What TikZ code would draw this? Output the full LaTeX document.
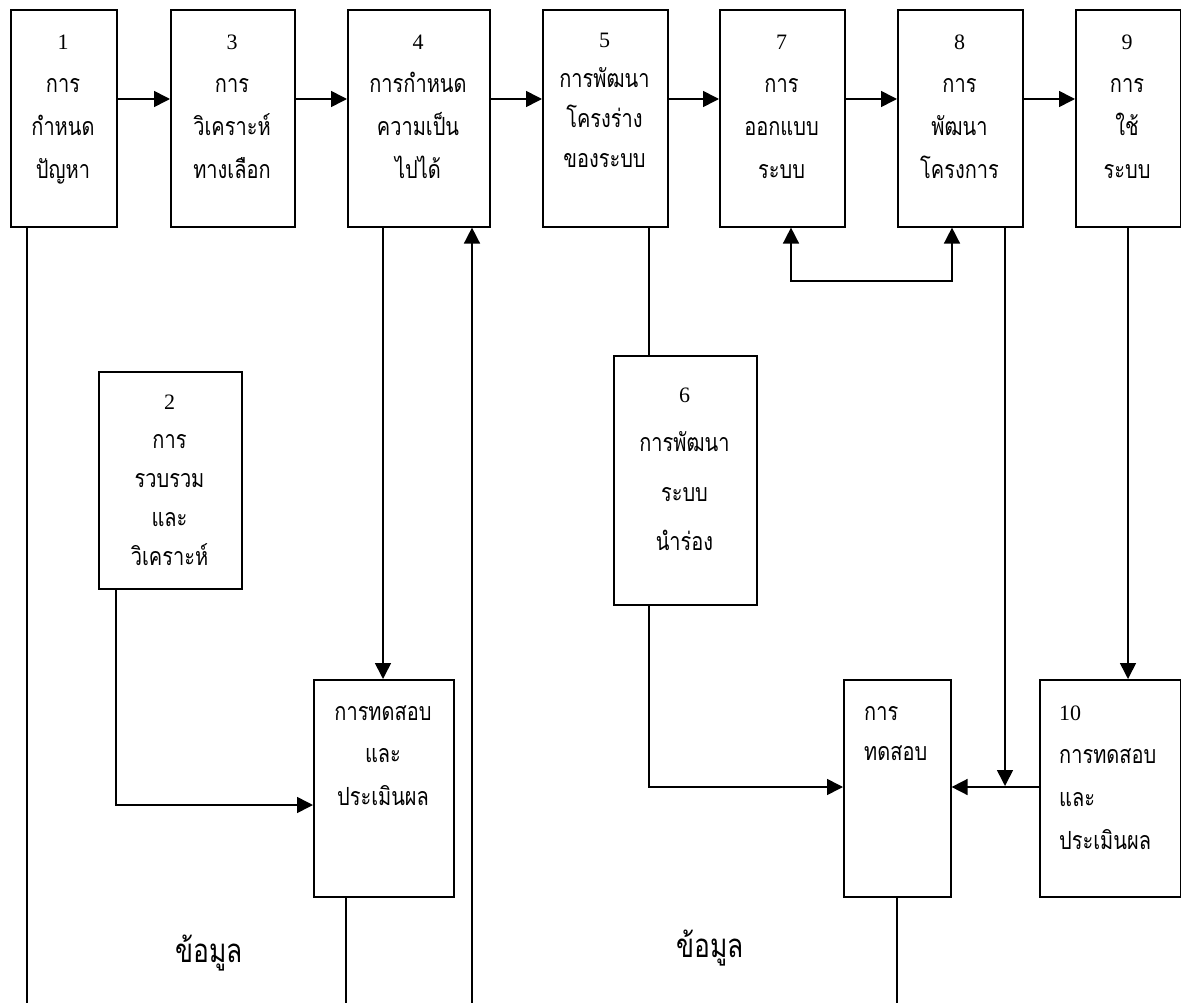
\documentclass[tikz,border=0pt]{standalone}
\usepackage{fontspec}
\setmainfont{Liberation Serif}
\newfontfamily\thaifont[Script=Thai,FakeStretch=0.8]{Loma}
\usetikzlibrary{arrows.meta}
\newcommand\stackc[5]{% name, x, first baseline, spacing, list
  \foreach \t [count=\i from 0] in {#5} {\node[txt,anchor=base] (#1-\i) at (#2,#3+\i*#4) {\t};}}
\newcommand\stackl[5]{%
  \foreach \t [count=\i from 0] in {#5} {\node[txt,anchor=base west] (#1-\i) at (#2,#3+\i*#4) {\t};}}
\tikzset{
  blk/.style={draw,line width=1.6pt,anchor=north west,inner sep=0pt},
  txt/.style={inner sep=0pt,font=\thaifont\fontsize{25}{30}\selectfont},
  ln/.style={line width=1.4pt},
  arr/.style={line width=1.6pt,-{Triangle[length=16pt,width=16pt]}},
  dbl/.style={line width=1.6pt,{Triangle[length=16pt,width=16pt]}-{Triangle[length=16pt,width=16pt]}},
  big/.style={inner sep=0pt,font=\thaifont\fontsize{33}{38}\selectfont}
}
\newcommand\dg[1]{{\rmfamily\fontsize{22}{26}\selectfont #1}}
\begin{document}
\begin{tikzpicture}[x=1pt,y=-1pt]
\useasboundingbox (0,0) rectangle (1181,1003);
% top row boxes
\node[blk,minimum width=106pt,minimum height=217pt] (b1) at (10,9) {};
\node[blk,minimum width=124pt,minimum height=217pt] (b3) at (170,9) {};
\node[blk,minimum width=142pt,minimum height=217pt] (b4) at (347,9) {};
\node[blk,minimum width=125pt,minimum height=217pt] (b5) at (542,9) {};
\node[blk,minimum width=125pt,minimum height=217pt] (b7) at (719,9) {};
\node[blk,minimum width=125pt,minimum height=217pt] (b8) at (897,9) {};
\node[blk,minimum width=105pt,minimum height=217pt] (b9) at (1075,9) {};
% middle boxes
\node[blk,minimum width=143pt,minimum height=217pt] (b2) at (98,371) {};
\node[blk,minimum width=143pt,minimum height=249pt] (b6) at (613,355) {};
% bottom boxes
\node[blk,minimum width=140pt,minimum height=217pt] (t1) at (313,679) {};
\node[blk,minimum width=107pt,minimum height=217pt] (t2) at (843,679) {};
\node[blk,minimum width=141pt,minimum height=217pt] (b10) at (1039,679) {};
% texts
\stackc{l1}{63}{50}{43}{\dg{1},การ,กำหนด,ปัญหา}
\stackc{l3}{232}{50}{43}{\dg{3},การ,วิเคราะห์,ทางเลือก}
\stackc{l4}{418}{50}{43}{\dg{4},การกำหนด,ความเป็น,ไปได้}
\stackc{l5}{604.5}{48}{40}{\dg{5},การพัฒนา,โครงร่าง,ของระบบ}
\stackc{l7}{781.5}{50}{43}{\dg{7},การ,ออกแบบ,ระบบ}
\stackc{l8}{959.5}{50}{43}{\dg{8},การ,พัฒนา,โครงการ}
\stackc{l9}{1127}{50}{43}{\dg{9},การ,ใช้,ระบบ}
\stackc{l2}{169.5}{409}{39.2}{\dg{2},การ,รวบรวม,และ,วิเคราะห์}
\stackc{l6}{684.5}{402}{49.5}{\dg{6},การพัฒนา,ระบบ,นำร่อง}
\stackc{lt1}{383}{720}{42.5}{การทดสอบ,และ,ประเมินผล}
\stackl{lt2}{864}{720}{40}{การ,ทดสอบ}
\stackl{l10}{1059}{720}{43}{\dg{10},การทดสอบ,และ,ประเมินผล}
\node[big,anchor=base] (d1) at (209,962) {ข้อมูล};
\node[big,anchor=base] (d2) at (710,957) {ข้อมูล};
% helper coordinates
\coordinate (ya) at (0,99);
\coordinate (e1) at (27,1003);
\coordinate (e4) at (383,0);
\coordinate (u4) at (472,1003);
\coordinate (e5) at (649,0);
\coordinate (e7) at (791,281);
\coordinate (e8) at (952,0);
\coordinate (d8) at (1005,786);
\coordinate (e9) at (1128,0);
\coordinate (e2) at (116,805);
\coordinate (et1) at (346,1003);
\coordinate (et2) at (897,1003);
\coordinate (y6) at (0,787);
% top arrows
\draw[arr] (b1.east |- ya) -- (b3.west |- ya);
\draw[arr] (b3.east |- ya) -- (b4.west |- ya);
\draw[arr] (b4.east |- ya) -- (b5.west |- ya);
\draw[arr] (b5.east |- ya) -- (b7.west |- ya);
\draw[arr] (b7.east |- ya) -- (b8.west |- ya);
\draw[arr] (b8.east |- ya) -- (b9.west |- ya);
% verticals
\draw[ln] (e1 |- b1.south) -- (e1);
\draw[arr] (e4 |- b4.south) -- (e4 |- t1.north);
\draw[arr] (u4) -- (u4 |- b4.south);
\draw[ln] (e5 |- b5.south) -- (e5 |- b6.north);
\draw[arr] (e5 |- b6.south) |- (t2.west |- y6);
\draw[dbl] (e7 |- b7.south) |- (e8 |- e7) -- (e8 |- b8.south);
\draw[arr] (d8 |- b8.south) -- (d8);
\draw[arr] (e9 |- b9.south) -- (e9 |- b10.north);
\draw[arr] (b10.west |- y6) -- (t2.east |- y6);
\draw[arr] (e2 |- b2.south) |- (t1.west |- e2);
\draw[ln] (et1 |- t1.south) -- (et1);
\draw[ln] (et2 |- t2.south) -- (et2);
\end{tikzpicture}
\end{document}
